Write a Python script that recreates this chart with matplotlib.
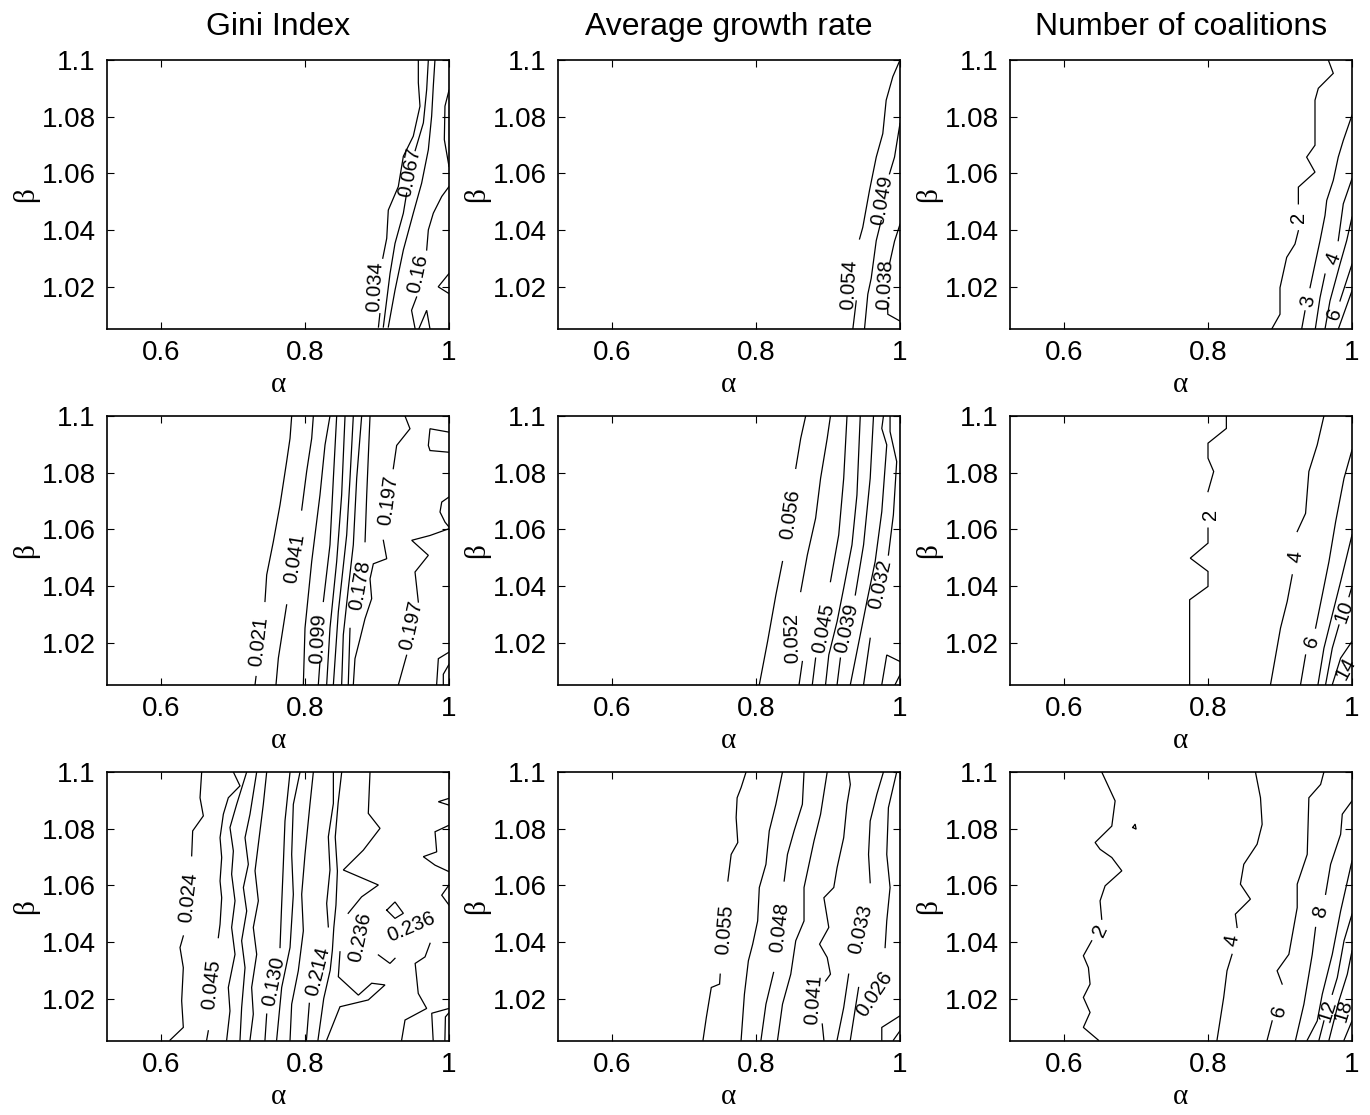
import matplotlib
matplotlib.use("Agg")
import matplotlib.pyplot as plt
import numpy as np

plt.rcParams['font.family'] = ['Liberation Sans', 'DejaVu Sans']

# axis ranges and ticks (alpha on x, beta on y)
alpha_lim = (0.525, 1.0)
beta_lim = (1.005, 1.1)
x_ticks = [0.6, 0.8, 1.0]
x_tick_labels = ['0.6', '0.8', '1']
y_ticks = [1.02, 1.04, 1.06, 1.08, 1.1]
y_tick_labels = ['1.02', '1.04', '1.06', '1.08', '1.1']
col_titles = ['Gini Index', 'Average growth rate', 'Number of coalitions']

# contour lines: (alpha, beta) points, None = gap for a label
# labels: (line index, text, alpha, beta)

# ---- row 1 ----
gini_top_lines = [
    [(0.902, 1.0057), (0.904, 1.0104), None, (0.908, 1.030), (0.9135, 1.037), (0.9157, 1.047),
     (0.9296, 1.0553), (0.9366, 1.066), (0.9504, 1.0731), (0.9597, 1.0837), (0.9574, 1.092), (0.9574, 1.1)],
    [(0.9088, 1.0057), (0.9181, 1.0246), (0.925, 1.0352), (0.9366, 1.0459), (0.9412, 1.053), None,
     (0.953, 1.068), (0.9644, 1.0778), (0.969, 1.0896), (0.9713, 1.1)],
    [(0.9157, 1.0057), (0.925, 1.0187), (0.9366, 1.0329), (0.9504, 1.0459), (0.962, 1.0565),
     (0.9713, 1.0683), (0.9759, 1.0802), (0.9782, 1.0908), (0.9805, 1.1)],
    [(0.953, 1.005), (0.948, 1.0116), (0.955, 1.0163), None, (0.969, 1.0329), (0.9713, 1.04),
     (0.9782, 1.0459), (0.9899, 1.0518), (1.0, 1.0553)],
    [(1.0, 1.0624), (0.9935, 1.0719), (0.9944, 1.0837), (1.0, 1.0893)],
    [(1.0, 1.0246), (0.985, 1.0199), (1.0, 1.0175)],
    [(0.958, 1.005), (0.969, 1.0116), (0.9736, 1.005)],
]
gini_top_labels = [(0, '0.034', 0.8972, 1.0199), (1, '0.067', 0.9458, 1.0604), (3, '0.16', 0.9574, 1.0246)]

growth_top_lines = [
    [(0.9345, 1.005), (0.9392, 1.0149), None, (0.9438, 1.0368), (0.9483, 1.0409), (0.9576, 1.0539),
     (0.967, 1.0657), (0.9761, 1.074), (0.9808, 1.0858), (0.99, 1.0941), (1.0, 1.1)],
    [(0.9507, 1.005), (0.9553, 1.0173), (0.96, 1.0229), (0.967, 1.0362), (0.9739, 1.0433), None,
     (0.9854, 1.0598), (0.9924, 1.0657), (1.0, 1.0776)],
    [(1.0, 1.0078), (0.9831, 1.0102), (0.9825, 1.014), None, (0.9854, 1.028), (0.9924, 1.036), (1.0, 1.042)],
]
growth_top_labels = [(0, '0.054', 0.9299, 1.0208), (1, '0.049', 0.975, 1.0504), (2, '0.038', 0.9795, 1.0208)]

coal_top_lines = [
    [(0.8885, 1.005), (0.9, 1.0102), (0.9, 1.0196), (0.9093, 1.0303), (0.9208, 1.035), (0.9255, 1.0397), None,
     (0.9255, 1.0492), (0.9255, 1.0551), (0.9486, 1.0604), (0.937, 1.0657), (0.9486, 1.0699),
     (0.9486, 1.0858), (0.9532, 1.09), (0.974, 1.0953), (0.9671, 1.1)],
    [(0.9301, 1.005), (0.9347, 1.0114), None, (0.9417, 1.0196), (0.9486, 1.0279), (0.9556, 1.0362),
     (0.9625, 1.0451), (0.9649, 1.0504), (0.974, 1.0575), (0.9809, 1.0657), (0.9879, 1.0716), (1.0, 1.0805)],
    [(0.949, 1.005), (0.9556, 1.0161), (0.9625, 1.0244), None, (0.9809, 1.0362), (0.9879, 1.0492), (1.0, 1.0581)],
    [(0.9625, 1.005), (0.9694, 1.0149), (0.9833, 1.0279), (0.9926, 1.0362), (1.0, 1.0445)],
    [(0.9704, 1.005), None, (0.9833, 1.0149), (1.0, 1.0279)],
    [(0.981, 1.005), (1.0, 1.0185)],
]
coal_top_labels = [(0, '2', 0.9255, 1.0445), (1, '3', 0.9393, 1.0149), (2, '4', 0.974, 1.0297), (4, '6', 0.9764, 1.0102)]

# ---- row 2 ----
gini_mid_lines = [
    [(0.7306, 1.0051), (0.732, 1.008), None, (0.7444, 1.0345), (0.7468, 1.0439), (0.756, 1.0556),
     (0.7653, 1.0686), (0.7745, 1.0839), (0.7792, 1.0921), (0.7815, 1.1)],
    [(0.7597, 1.0051), (0.763, 1.0145), (0.7745, 1.0333), None, (0.7954, 1.0668), (0.8023, 1.0804),
     (0.8093, 1.0921), (0.8116, 1.1)],
    [(0.7977, 1.0051), (0.80, 1.0251), (0.8093, 1.0486), (0.8208, 1.0721), (0.8278, 1.0898), (0.8347, 1.1)],
    [(0.8185, 1.0051), (0.8208, 1.0133), None, (0.8255, 1.0345), (0.8347, 1.0545), (0.8394, 1.078), (0.844, 1.1)],
    [(0.8301, 1.0051), (0.8347, 1.0251), (0.844, 1.0486), (0.8509, 1.0721), (0.8556, 1.1)],
    [(0.8394, 1.0051), (0.8463, 1.0309), (0.8579, 1.058), (0.8625, 1.078), (0.8671, 1.1)],
    [(0.8509, 1.0051), (0.8532, 1.0227), (0.8602, 1.0392), (0.8671, 1.0545), (0.8718, 1.078), (0.8787, 1.1)],
    [(0.8601, 1.0051), (0.8625, 1.025), None, (0.8834, 1.0556), (0.8857, 1.0721), (0.8903, 1.1)],
    [(0.8671, 1.005), (0.8694, 1.0143), (0.8764, 1.0213), (0.8833, 1.0284), (0.8926, 1.0355),
     (0.8903, 1.0425), (0.8949, 1.0478), (0.9135, 1.0496), (0.9088, 1.0561), None,
     (0.9226, 1.0814), (0.9273, 1.0896), (0.9458, 1.0955), (0.9389, 1.1)],
    [(0.9296, 1.005), (0.9411, 1.0155), None, (0.9574, 1.0343), (0.9528, 1.0449), (0.9713, 1.0508),
     (0.9482, 1.0561), (0.9736, 1.0578), (1.0, 1.0602)],
    [(1.0, 1.0943), (0.9736, 1.0955), (0.9713, 1.0896), (0.9736, 1.0878), (1.0, 1.0872)],
    [(1.0, 1.0714), (0.9899, 1.0696), (0.9875, 1.0661), (0.9945, 1.0625), (1.0, 1.0608)],
    [(1.0, 1.0166), (0.9852, 1.0143), (0.9828, 1.005)],
    [(1.0, 1.0123), (0.9921, 1.0088), (0.9921, 1.005)],
]
gini_mid_labels = [(0, '0.021', 0.7352, 1.0204), (1, '0.041', 0.7861, 1.0498), (3, '0.099', 0.8185, 1.0215),
                   (7, '0.178', 0.8764, 1.0403), (8, '0.197', 0.9157, 1.0702), (9, '0.197', 0.9482, 1.0261)]

growth_mid_lines = [
    [(0.8046, 1.0051), (0.8161, 1.0204), (0.8276, 1.0368), (0.8368, 1.0486), None,
     (0.8552, 1.0815), (0.8621, 1.0921), (0.869, 1.1)],
    [(0.8598, 1.0051), (0.8644, 1.0133), None, (0.8621, 1.038), (0.8713, 1.0509), (0.8828, 1.0639),
     (0.8897, 1.078), (0.8989, 1.0921), (0.9034, 1.1)],
    [(0.8782, 1.0051), (0.8828, 1.0145), None, (0.9034, 1.0415), (0.9149, 1.058), (0.9218, 1.078), (0.9264, 1.1)],
    [(0.8966, 1.0051), (0.9011, 1.0156), (0.9126, 1.0274), (0.9218, 1.0392), (0.9333, 1.0545),
     (0.9402, 1.0721), (0.9448, 1.1)],
    [(0.9126, 1.0051), (0.9172, 1.0145), None, (0.9379, 1.0368), (0.9494, 1.0545), (0.9586, 1.078), (0.9632, 1.1)],
    [(0.931, 1.0051), (0.9448, 1.0227), (0.954, 1.0345), (0.9655, 1.0486), (0.9747, 1.0662),
     (0.9816, 1.0898), (0.9747, 1.0956), (0.977, 1.1)],
    [(0.9494, 1.0051), (0.9586, 1.0215), None, (0.9839, 1.0509), (0.9908, 1.0651), (0.9954, 1.0839),
     (0.9862, 1.0945), (0.9862, 1.1)],
    [(0.9747, 1.0051), (0.9816, 1.0156), (1.0, 1.0133)],
    [(0.9931, 1.0051), (1.0, 1.0086)],
]
growth_mid_labels = [(0, '0.056', 0.8483, 1.0651), (1, '0.052', 0.8506, 1.0215), (2, '0.045', 0.8943, 1.0251),
                     (4, '0.039', 0.9264, 1.0251), (6, '0.032', 0.9724, 1.0404)]

coal_mid_lines = [
    [(0.7745, 1.0051), (0.7745, 1.0351), (0.80, 1.0398), (0.80, 1.0451), (0.7754, 1.0498), (0.80, 1.0551),
     (0.80, 1.0604), None, (0.80, 1.0733), (0.8079, 1.0804), (0.80, 1.0851), (0.80, 1.0904),
     (0.8255, 1.0956), (0.8255, 1.1)],
    [(0.8868, 1.0051), (0.9007, 1.0251), (0.91, 1.0345), (0.917, 1.0439), None, (0.9239, 1.0592),
     (0.9355, 1.0656), (0.9401, 1.0804), (0.9517, 1.0898), (0.961, 1.1)],
    [(0.9285, 1.0051), (0.9355, 1.0156), None, (0.9494, 1.0251), (0.9587, 1.0368), (0.968, 1.0486),
     (0.9773, 1.0627), (0.9889, 1.078), (1.0, 1.088)],
    [(0.9527, 1.0051), (0.961, 1.018), (0.9726, 1.0298), (0.9842, 1.0415), (1.0, 1.058)],
    [(0.9633, 1.0051), (0.9726, 1.018), (0.9819, 1.0262), None, (0.9958, 1.0362), (1.0, 1.0398)],
    [(0.9726, 1.0051), (0.9842, 1.0145), (1.0, 1.0204)],
    [(0.9805, 1.0051), None, (1.0, 1.0145)],
]
coal_mid_labels = [(0, '2', 0.8032, 1.0651), (1, '4', 0.9216, 1.0504), (2, '6', 0.9448, 1.0204),
                   (4, '10', 0.9889, 1.0309), (6, '14', 0.9912, 1.0109)]

# ---- row 3 ----
gini_bot_lines = [
    [(0.6125, 1.0053), (0.631, 1.0098), (0.6287, 1.0192), (0.631, 1.0309), (0.6264, 1.038), (0.631, 1.0421), None,
     (0.6426, 1.0704), (0.644, 1.0792), (0.6588, 1.0845), (0.6542, 1.0909), (0.6565, 1.1)],
    [(0.6634, 1.0053), (0.6657, 1.0086), None, (0.6796, 1.0415), (0.682, 1.0462), (0.6843, 1.0556),
     (0.682, 1.0615), (0.6843, 1.0698), (0.682, 1.0768), (0.6866, 1.0851), (0.6935, 1.0909),
     (0.7097, 1.0951), (0.7005, 1.1)],
    [(0.6912, 1.0053), (0.6958, 1.0156), (0.6935, 1.0239), (0.7028, 1.0356), (0.6981, 1.0451), (0.7028, 1.0545),
     (0.6981, 1.0639), (0.7005, 1.0721), (0.6958, 1.0804), (0.7051, 1.0886), (0.719, 1.1)],
    [(0.7097, 1.0053), (0.712, 1.0168), (0.7167, 1.0309), (0.712, 1.0404), (0.719, 1.0509), (0.7144, 1.0592),
     (0.7213, 1.0674), (0.7167, 1.0768), (0.7236, 1.0851), (0.7329, 1.1)],
    [(0.7236, 1.0053), (0.7282, 1.0145), (0.7259, 1.0239), (0.7329, 1.0356), (0.7282, 1.0451), (0.7352, 1.0545),
     (0.7306, 1.0651), (0.7352, 1.0745), (0.7421, 1.0886), (0.7468, 1.1)],
    [(0.7444, 1.0053), (0.7468, 1.0145), None, (0.7653, 1.038), (0.7676, 1.0533), (0.7699, 1.0674),
     (0.7722, 1.0827), (0.7792, 1.1)],
    [(0.7606, 1.0053), (0.7676, 1.0239), (0.7792, 1.038), (0.7838, 1.0568), (0.7815, 1.0709),
     (0.7838, 1.0886), (0.7931, 1.1)],
    [(0.7792, 1.0053), (0.7815, 1.018), (0.7907, 1.0298), (0.7977, 1.0439), (0.7954, 1.0568), (0.80, 1.0709),
     (0.8069, 1.0886), (0.8116, 1.1)],
    [(0.802, 1.0053), (0.806, 1.0183), None, (0.8324, 1.0453), (0.8301, 1.0536), (0.8347, 1.0654),
     (0.8324, 1.0771), (0.8394, 1.0889), (0.8394, 1.1)],
    [(0.818, 1.0053), (0.826, 1.02), (0.835, 1.03), (0.838, 1.037), (0.840, 1.045), (0.843, 1.053),
     (0.845, 1.065), (0.842, 1.077), (0.846, 1.089), (0.851, 1.1)],
    [(0.8301, 1.0053), (0.8486, 1.0171), (0.8879, 1.0195), (0.9111, 1.0248), (0.8926, 1.0254), (0.8741, 1.0212),
     (0.8463, 1.0277), (0.8486, 1.0365), None, (0.860, 1.0501), (0.8786, 1.0559), (0.9019, 1.0601),
     (0.8532, 1.0654), (0.881, 1.0724), (0.9042, 1.0801), (0.8879, 1.0854), (0.8903, 1.1)],
    [(0.9135, 1.0512), (0.925, 1.0541), (0.9366, 1.0501), (0.925, 1.0483), (0.9135, 1.0512)],
    [(0.9019, 1.0354), (0.918, 1.0324), (0.925, 1.0342), None, (0.9737, 1.0395), (0.9667, 1.0347),
     (0.953, 1.0324), (0.9573, 1.0218), (0.969, 1.0165), (0.9389, 1.0124), (0.9342, 1.0053)],
    [(0.978, 1.0053), (0.976, 1.0148), (1.0, 1.0165)],
    [(0.9943, 1.0053), (0.995, 1.0135), (1.0, 1.015)],
    [(1.0, 1.0907), (0.9852, 1.0895), (1.0, 1.0883)],
    [(1.0, 1.0812), (0.9806, 1.0789), (0.9829, 1.0718), (0.9643, 1.0701), (0.9806, 1.0671), (1.0, 1.0648)],
    [(1.0, 1.0601), (0.9899, 1.0565), (1.0, 1.053)],
]
gini_bot_labels = [(0, '0.024', 0.638, 1.0556), (1, '0.045', 0.6704, 1.0251), (5, '0.130', 0.756, 1.0262),
                   (8, '0.214', 0.8185, 1.0295), (10, '0.236', 0.8772, 1.0418), (12, '0.236', 0.948, 1.0453)]

growth_bot_lines = [
    [(0.7264, 1.0053), (0.731, 1.0133), (0.7356, 1.0204), (0.7379, 1.0239), (0.7494, 1.0251), (0.7503, 1.0286),
     None, (0.7609, 1.0615), (0.7655, 1.0709), (0.7747, 1.0751), (0.7724, 1.0839), (0.7738, 1.0909),
     (0.7793, 1.0945), (0.7862, 1.1)],
    [(0.7793, 1.0053), (0.7839, 1.0215), (0.7894, 1.0333), (0.7954, 1.0392), (0.8023, 1.0474), (0.8046, 1.0592),
     (0.8138, 1.0674), (0.8184, 1.0792), (0.8276, 1.0886), (0.8368, 1.1)],
    [(0.8069, 1.0053), (0.8138, 1.018), (0.8244, 1.0292), None, (0.8391, 1.0615), (0.8437, 1.0709),
     (0.8529, 1.0792), (0.8644, 1.0886), (0.8667, 1.1)],
    [(0.8299, 1.0053), (0.8368, 1.018), (0.8483, 1.0286), (0.8552, 1.0404), (0.8667, 1.0474), (0.8667, 1.0592),
     (0.8805, 1.0756), (0.8897, 1.0851), (0.8989, 1.1)],
    [(0.8943, 1.0053), (0.892, 1.011), None, (0.8966, 1.0262), (0.9034, 1.0286), (0.8989, 1.0345),
     (0.8883, 1.0392), (0.9011, 1.0451), (0.8943, 1.0556), (0.908, 1.0592), (0.9126, 1.0662),
     (0.9218, 1.0768), (0.9264, 1.0886), (0.931, 1.0956), (0.9287, 1.1)],
    [(0.9126, 1.0053), (0.9218, 1.0168), (0.9287, 1.0286), None, (0.9586, 1.0609), (0.9563, 1.0709),
     (0.9586, 1.0827), (0.9678, 1.0921), (0.977, 1.1)],
    [(0.931, 1.0053), (0.9425, 1.0239), None, (0.9793, 1.038), (0.9816, 1.0474), (0.9862, 1.0592),
     (0.9816, 1.0709), (0.9839, 1.0874), (0.9954, 1.1)],
    [(0.9747, 1.0053), (0.9747, 1.0098), (1.0, 1.0139)],
    [(0.9908, 1.0053), (1.0, 1.0086)],
]
growth_bot_labels = [(0, '0.055', 0.7572, 1.0445), (2, '0.048', 0.8322, 1.0451), (4, '0.041', 0.8805, 1.0198),
                     (5, '0.033', 0.9448, 1.0445), (6, '0.026', 0.9641, 1.0215)]

coal_bot_lines = [
    [(0.6478, 1.0053), (0.6269, 1.0098), (0.6362, 1.0151), (0.6269, 1.0204), (0.6362, 1.0251), (0.6339, 1.0309),
     (0.6269, 1.0351), (0.6385, 1.0404), None, (0.6524, 1.048), (0.6501, 1.0545), (0.6571, 1.0598),
     (0.6803, 1.0651), (0.6664, 1.0698), (0.6501, 1.0727), (0.6432, 1.0751), (0.6664, 1.0809),
     (0.671, 1.0898), (0.6524, 1.1)],
    [(0.6955, 1.0804), (0.6988, 1.0816), (0.7002, 1.0798), (0.6955, 1.0804)],
    [(0.8125, 1.0053), (0.8218, 1.0204), (0.8264, 1.0298), (0.8334, 1.0356), None, (0.8404, 1.0451),
     (0.838, 1.0498), (0.8589, 1.0551), (0.845, 1.0604), (0.8497, 1.0674), (0.8682, 1.0745),
     (0.8752, 1.0815), (0.8729, 1.0909), (0.8659, 1.1)],
    [(0.8821, 1.0053), (0.8891, 1.0121), None, (0.903, 1.0251), (0.896, 1.0298), (0.9123, 1.0356),
     (0.9239, 1.0521), (0.9239, 1.0604), (0.9378, 1.0709), (0.9401, 1.0909), (0.9564, 1.0956), (0.961, 1.1)],
    [(0.9216, 1.0053), (0.9332, 1.018), (0.9448, 1.0356), (0.9494, 1.0451), None, (0.9633, 1.0568),
     (0.9703, 1.0674), (0.9842, 1.078), (0.9865, 1.0851), (1.0, 1.0898)],
    [(0.9378, 1.0053), (0.9517, 1.0121), (0.9587, 1.0215), (0.9726, 1.0356), (0.9842, 1.0509), (1.0, 1.0686)],
    [(0.9541, 1.0053), (0.961, 1.0121), None, (0.9726, 1.0215), (0.9796, 1.0274), (0.9889, 1.0404), (1.0, 1.0498)],
    [(0.968, 1.0053), (0.9819, 1.0192), (0.9935, 1.0286), (1.0, 1.0368)],
    [(0.9773, 1.0053), None, (1.0, 1.0239)],
    [(0.9889, 1.0053), (1.0, 1.0121)],
]
coal_bot_labels = [(0, '2', 0.6501, 1.0439), (2, '4', 0.8334, 1.0404), (3, '6', 0.8984, 1.0156),
                   (4, '8', 0.9564, 1.0504), (6, '12', 0.9657, 1.0156), (8, '18', 0.9889, 1.0156)]

panels = [
    [(gini_top_lines, gini_top_labels), (growth_top_lines, growth_top_labels), (coal_top_lines, coal_top_labels)],
    [(gini_mid_lines, gini_mid_labels), (growth_mid_lines, growth_mid_labels), (coal_mid_lines, coal_mid_labels)],
    [(gini_bot_lines, gini_bot_labels), (growth_bot_lines, growth_bot_labels), (coal_bot_lines, coal_bot_labels)],
]


def split_xy(line):
    xs = [np.nan if p is None else p[0] for p in line]
    ys = [np.nan if p is None else p[1] for p in line]
    return xs, ys


def label_rotation(ax, line, x, y):
    # chords across the gaps; fall back to plain segments
    chords = [(line[k - 1], line[k + 1]) for k, p in enumerate(line) if p is None]
    if not chords:
        chords = [(line[k], line[k + 1]) for k in range(len(line) - 1)]
    tr = ax.transData.transform
    here = tr((x, y))
    best = None
    for a, b in chords:
        pa, pb = tr(a), tr(b)
        d = np.hypot(*((pa + pb) / 2 - here))
        if best is None or d < best[0]:
            best = (d, pa, pb)
    _, pa, pb = best
    ang = np.degrees(np.arctan2(pb[1] - pa[1], pb[0] - pa[0]))
    # keep text reading upwards, as the reference does
    while ang > 110:
        ang -= 180
    while ang <= -70:
        ang += 180
    return ang


fig = plt.figure(figsize=(13.7, 11.15), dpi=100)
W, H = 1370, 1115
col_left = [107, 558, 1010]
row_top = [60, 416, 772]
ax_w, ax_h = 342, 269

for r in range(3):
    for c in range(3):
        lines, labels = panels[r][c]
        ax = fig.add_axes([col_left[c] / W, 1 - (row_top[r] + ax_h) / H, ax_w / W, ax_h / H])
        ax.set_xlim(*alpha_lim)
        ax.set_ylim(*beta_lim)
        for line in lines:
            xs, ys = split_xy(line)
            ax.plot(xs, ys, color='black', lw=0.9, solid_joinstyle='miter')
        for idx, txt, x, y in labels:
            rot = label_rotation(ax, lines[idx], x, y)
            ax.text(x, y, txt, rotation=rot, rotation_mode='anchor', ha='center', va='center',
                    fontsize=14.5)
        ax.set_xticks(x_ticks)
        ax.set_xticklabels(x_tick_labels)
        ax.set_yticks(y_ticks)
        ax.set_yticklabels(y_tick_labels)
        ax.tick_params(direction='in', top=True, right=True, length=5, width=0.8,
                       labelsize=20, pad=8)
        for s in ax.spines.values():
            s.set_linewidth(1.2)
        ax.set_xlabel('α', fontsize=21, labelpad=4, family=['Liberation Serif', 'DejaVu Serif'])
        ax.set_ylabel('β', fontsize=21, labelpad=2, family=['Liberation Serif', 'DejaVu Serif'])
        if r == 0:
            ax.set_title(col_titles[c], fontsize=23, pad=18)

fig.savefig('out.png', dpi=100, facecolor='white')
